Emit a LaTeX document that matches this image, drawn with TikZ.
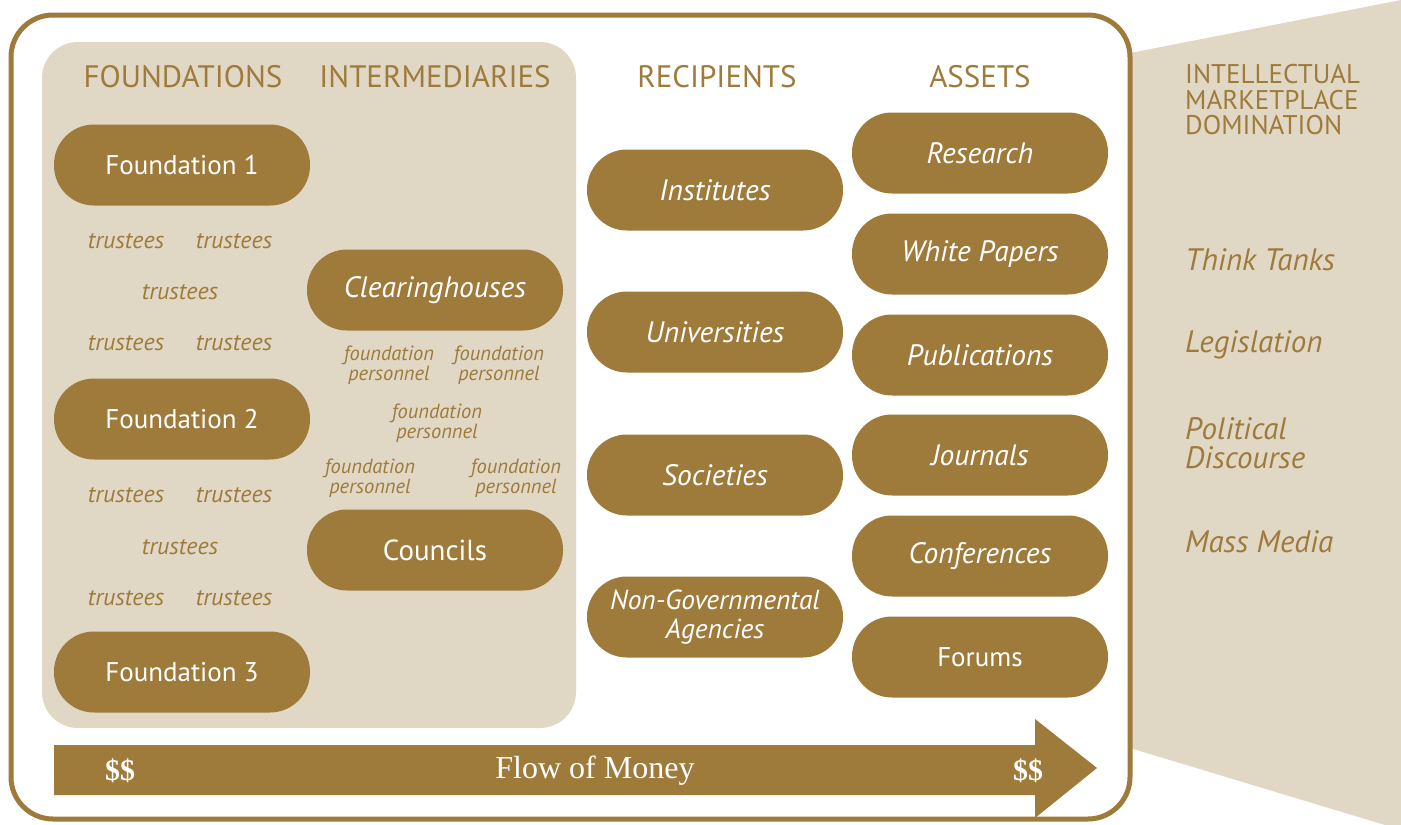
\documentclass[tikz,border=0pt]{standalone}
\usepackage{fontspec}
\setmainfont{PT Sans}
\newfontfamily\moneyfont{Liberation Serif}
\definecolor{brn}{RGB}{158,123,59}
\definecolor{bge}{RGB}{225,215,197}
\begin{document}
\begin{tikzpicture}[x=1pt,y=-1pt,
  pill/.style={fill=brn, rounded corners=40pt, minimum width=256pt, minimum height=81pt,
    text=white, font=\fontsize{29.5}{29}\selectfont\itshape, align=center, inner sep=0pt},
  uprt/.style={font=\fontsize{27}{27}\selectfont},
  hdr/.style={text=brn, font=\fontsize{31}{24}\selectfont, inner sep=0pt},
  trus/.style={text=brn, font=\fontsize{24}{24}\selectfont\itshape, inner sep=0pt},
  pers/.style={text=brn, font=\fontsize{20.5}{19.5}\selectfont\itshape, align=center, inner sep=0pt},
  side/.style={text=brn, font=\fontsize{31}{29}\selectfont\itshape, anchor=west, align=left, inner sep=0pt},
  money/.style={text=white, font=\fontsize{32}{32}\moneyfont\selectfont, inner sep=0pt}
]
\useasboundingbox (0,0) rectangle (1401,825);
% right beige wedge
\fill[bge] (1120,55) -- (1401,0) -- (1401,825) -- (1385,825) -- (1120,745) -- cycle;
% outer box
\draw[brn, line width=5pt, fill=white, rounded corners=42pt] (11,15) rectangle (1130,819);
% left beige panel
\fill[bge, rounded corners=36pt] (42,42) rectangle (576,728);

% headers
\node[hdr] (hF) at (183,77) {FOUNDATIONS};
\node[hdr] (hI) at (435,77) {INTERMEDIARIES};
\node[hdr] (hR) at (717,77) {RECIPIENTS};
\node[hdr] (hA) at (980,77) {ASSETS};
\node[hdr, anchor=west, align=left, font=\fontsize{27}{25.5}\selectfont] (hD) at (1185,100) {INTELLECTUAL\\MARKETPLACE\\DOMINATION};

% foundations
\node[pill, uprt] (f1) at (182,165) {Foundation 1};
\node[pill, uprt] (f2) at (182,419) {Foundation 2};
\node[pill, uprt] (f3) at (182,672) {Foundation 3};

% trustees
\node[trus] (t1) at (126,241) {trustees};
\node[trus] (t2) at (234,241) {trustees};
\node[trus] (t3) at (180,292) {trustees};
\node[trus] (t4) at (126,343) {trustees};
\node[trus] (t5) at (234,343) {trustees};
\node[trus] (t6) at (126,495) {trustees};
\node[trus] (t7) at (234,495) {trustees};
\node[trus] (t8) at (180,547) {trustees};
\node[trus] (t9) at (126,598) {trustees};
\node[trus] (t10) at (234,598) {trustees};

% intermediaries
\node[pill] (ch) at (435,290) {Clearinghouses};
\node[pill, uprt, font=\fontsize{29}{29}\selectfont] (co) at (435,550) {Councils};
\node[pers] (p1) at (389,365) {foundation\\personnel};
\node[pers] (p2) at (499,365) {foundation\\personnel};
\node[pers] (p3) at (437,423) {foundation\\personnel};
\node[pers] (p4) at (370,478) {foundation\\personnel};
\node[pers] (p5) at (516,478) {foundation\\personnel};

% recipients
\node[pill] (r1) at (715,190) {Institutes};
\node[pill] (r2) at (715,332) {Universities};
\node[pill] (r3) at (715,475) {Societies};
\node[pill, font=\fontsize{27.5}{29}\selectfont\itshape] (r4) at (715,617) {Non-Governmental\\Agencies};

% assets
\node[pill] (a1) at (980,153) {Research};
\node[pill] (a2) at (980,254) {White Papers};
\node[pill] (a3) at (980,355) {Publications};
\node[pill] (a4) at (980,455) {Journals};
\node[pill] (a5) at (980,556) {Conferences};
\node[pill, uprt] (a6) at (980,657) {Forums};

% domination
\node[side] (d1) at (1185,260) {Think Tanks};
\node[side] (d2) at (1185,345) {Legislation};
\node[side] (d3) at (1185,443) {Political\\Discourse};
\node[side] (d4) at (1185,542) {Mass Media};

% flow of money arrow
\fill[brn] (54,745) -- (1035,745) -- (1035,719) -- (1097,768) -- (1035,818) -- (1035,795) -- (54,795) -- cycle;
\node[money, font=\fontsize{30}{30}\moneyfont\bfseries\selectfont] (m1) at (120,771) {\$\$};
\node[money] (m2) at (595,771) {Flow of Money};
\node[money, font=\fontsize{30}{30}\moneyfont\bfseries\selectfont] (m3) at (1028,771) {\$\$};
\end{tikzpicture}
\end{document}
